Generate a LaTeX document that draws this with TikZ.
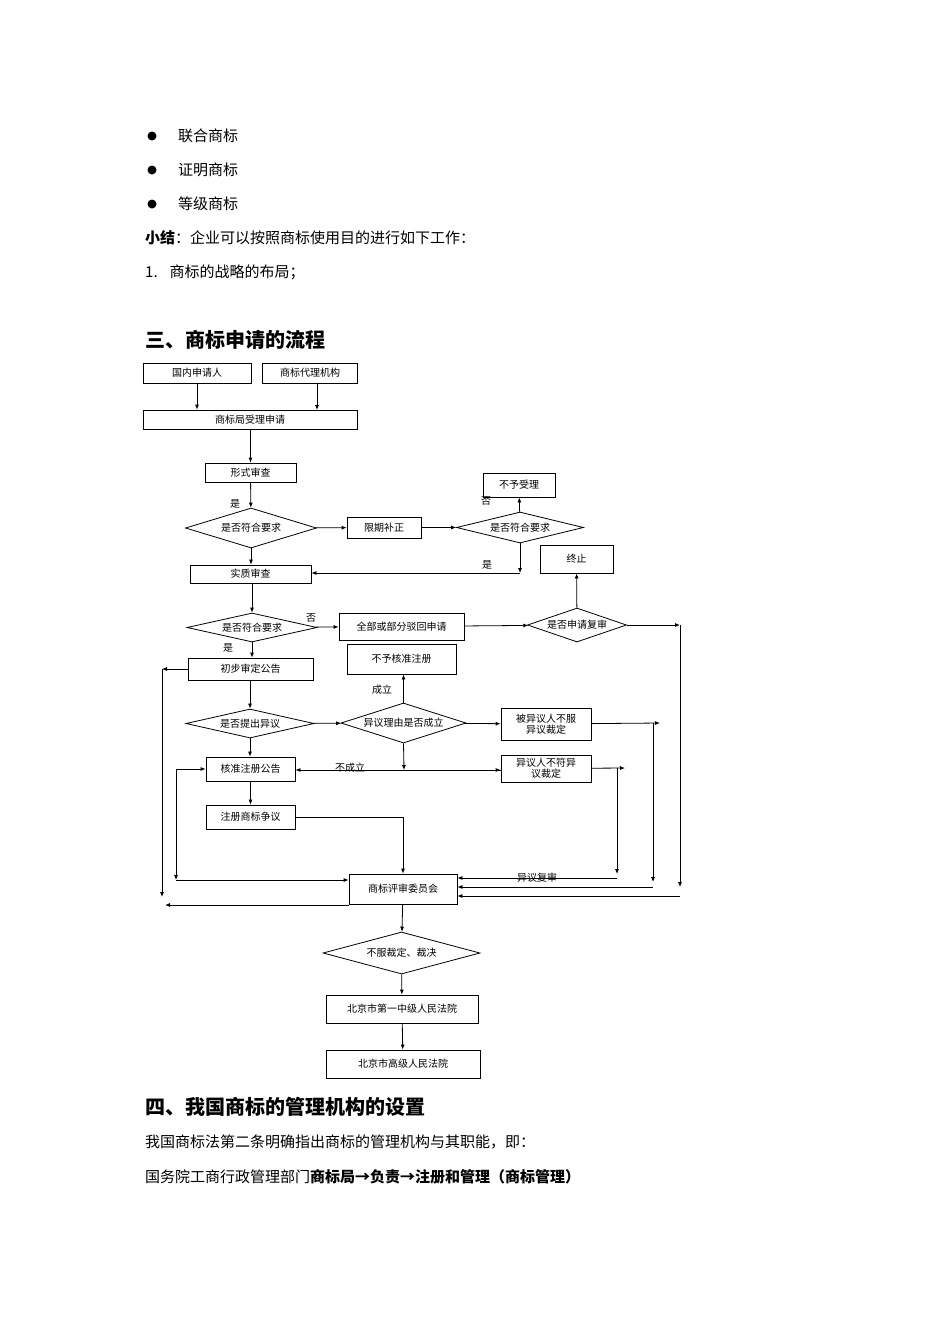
\documentclass[tikz,border=0pt]{standalone}
\usepackage{fontspec}
\setmainfont{Noto Sans CJK SC}
\newfontfamily\cjk{Noto Sans CJK SC}
\usetikzlibrary{arrows.meta,shapes.geometric}
\begin{document}
\begin{tikzpicture}[x=1pt,y=-1pt,
  bx/.style={draw,thick,inner sep=0pt,font=\fontsize{10}{11}\selectfont,align=center},
  dm/.style={draw,thick,diamond,aspect=3.2,inner sep=0pt,font=\fontsize{10}{11}\selectfont,align=center},
  ar/.style={thick,-{Latex[length=5pt,width=4pt]}},
  ln/.style={thick},
  lb/.style={font=\fontsize{10}{11}\selectfont,inner sep=1pt},
  tx/.style={anchor=west,font=\fontsize{15}{16}\selectfont,inner sep=0pt},
  hd/.style={anchor=west,font=\fontsize{20}{22}\selectfont\bfseries,inner sep=0pt}]
\useasboundingbox (0,0) rectangle (950,1344);
\fill[white] (0,0) rectangle (950,1344);
% text
\foreach \yy/\t in {136/联合商标,170/证明商标,204/等级商标}{
  \fill (152,\yy) circle (4.5);
  \node[tx] (b\yy) at (178,\yy) {\t};}
\node[tx] (s1) at (145,238) {\textbf{小结}：企业可以按照商标使用目的进行如下工作：};
\node[tx] (s2) at (145,272) {1.\hspace{12pt}商标的战略的布局；};
\node[hd] (h3) at (145,340) {三、商标申请的流程};
\node[hd] (h4) at (145,1107) {四、我国商标的管理机构的设置};
\node[tx] (t1) at (145,1142) {我国商标法第二条明确指出商标的管理机构与其职能，即：};
\node[tx] (t2) at (145,1177) {国务院工商行政管理部门\textbf{商标局→负责→注册和管理（商标管理）}};
% nodes
\node[bx,minimum width=108,minimum height=20] (gn) at (197,373) {国内申请人};
\node[bx,minimum width=95,minimum height=20] (dl) at (310,373) {商标代理机构};
\node[bx,minimum width=214,minimum height=19] (sl) at (250,419.5) {商标局受理申请};
\node[bx,minimum width=91,minimum height=19] (xs) at (250.5,472.5) {形式审查};
\node[dm,minimum width=131,minimum height=40] (d1) at (251,528) {是否符合要求};
\node[bx,minimum width=74,minimum height=21] (xq) at (384,527.5) {限期补正};
\node[dm,minimum width=127,minimum height=31] (d2) at (520,527.5) {是否符合要求};
\node[bx,minimum width=72,minimum height=24] (bs) at (519,485) {不予受理};
\node[bx,minimum width=73,minimum height=28] (zz) at (576.5,559) {终止};
\node[bx,minimum width=121,minimum height=18] (sz) at (250.5,574) {实质审查};
\node[dm,minimum width=130,minimum height=29] (d3) at (252,627.5) {是否符合要求};
\node[bx,minimum width=125,minimum height=27] (bh) at (401.5,626.5) {全部或部分驳回申请};
\node[dm,minimum width=99,minimum height=34] (d4) at (577,625) {是否申请复审};
\node[bx,minimum width=109,minimum height=30] (bhz) at (401.5,659) {不予核准注册};
\node[bx,minimum width=125,minimum height=22] (cb) at (250.5,669) {初步审定公告};
\node[dm,minimum width=128,minimum height=29] (d5) at (250,723.5) {是否提出异议};
\node[dm,minimum width=125,minimum height=40] (d6) at (403.5,723) {异议理由是否成立};
\node[bx,minimum width=90,minimum height=32] (byy) at (546,724) {被异议人不服\\异议裁定};
\node[bx,minimum width=89,minimum height=24] (hz) at (250.5,769) {核准注册公告};
\node[bx,minimum width=90,minimum height=27] (yyr) at (546,768.5) {异议人不符异\\议裁定};
\node[bx,minimum width=89,minimum height=24] (zc) at (250.5,817) {注册商标争议};
\node[bx,minimum width=108,minimum height=30] (pw) at (403,889) {商标评审委员会};
\node[dm,minimum width=157,minimum height=42] (bf) at (401.5,953) {不服裁定、裁决};
\node[bx,minimum width=152,minimum height=28] (bj1) at (402,1009) {北京市第一中级人民法院};
\node[bx,minimum width=154,minimum height=28] (bj2) at (403,1064) {北京市高级人民法院};
% labels
\node[lb] (l1) at (235,504) {是};
\node[lb] (l2) at (486,501) {否};
\node[lb] (l3) at (487,565) {是};
\node[lb] (l4) at (311,618) {否};
\node[lb] (l5) at (228,648) {是};
\node[lb] (l6) at (382,690) {成立};
\node[lb] (l7) at (350,768) {不成立};
\node[lb] (l8) at (537,878) {异议复审};
% coordinates
\coordinate (c1) at (520,573);
\coordinate (c2) at (680,625);
\coordinate (c3) at (680,896);
\coordinate (c4) at (660,723);
\coordinate (c4b) at (653,723);
\coordinate (c5) at (653,887);
\coordinate (c6) at (625,768);
\coordinate (c6b) at (617,768);
\coordinate (c7) at (617,878);
\coordinate (c8) at (162,669);
\coordinate (c9) at (162,897);
\coordinate (c10) at (165,905);
\coordinate (c11) at (176,769);
\coordinate (c12) at (176,880);
\coordinate (c13) at (404,770);
\coordinate (c14) at (403,817);
% connectors
\draw[ar] (gn.south) -- (gn.south|-sl.north);
\draw[ar] (dl.south-|317,0) -- (317,410);
\draw[ar] (sl.south-|xs.north) -- (xs.north);
\draw[ar] (xs) -- (d1);
\draw[ar] (d1) -- (sz.north-|d1);
\draw[ar] (d1) -- (xq);
\draw[ar] (xq) -- (d2);
\draw[ar] (d2) -- (bs);
\draw[ar] (d2.south) -- (c1);
\draw[ar] (c1) -- (sz.east|-c1);
\draw[ar] (sz.south-|d3) -- (d3.north);
\draw[ar] (d3) -- (bh);
\draw[ar] (d3.south) -- (cb.north-|d3.south);
\draw[ar] (bh) -- (d4);
\draw[ar] (d4) -- (zz);
\draw[ar] (d4) -- (c2);
\draw[ar] (c2) -- (680,887);
\draw[ar] (c3) -- (pw.east|-c3);
\draw[ar] (cb.west) -- (c8);
\draw[ar] (c8) -- (c9);
\draw[ar] (pw.south west|-c10) -- (c10);
\draw[ar] (cb.south-|d5) -- (d5.north);
\draw[ar] (d5) -- (d6);
\draw[ar] (d5.south) -- (hz.north-|d5.south);
\draw[ar] (d6.north) -- (bhz.south-|d6.north);
\draw[ar] (d6) -- (byy);
\draw[ar] (d6.south) -- (c13);
\draw[ar] (yyr.west|-c13) -- (hz.east|-c13);
\draw[ar] (c13) -- (yyr.west|-c13);
\draw[ar] (byy) -- (c4);
\draw[ar] (c4b) -- (653,882);
\draw[ar] (c5) -- (pw.east|-c5);
\draw[ar] (yyr) -- (c6);
\draw[ar] (c6b) -- (617,874);
\draw[ar] (c7) -- (pw.east|-c7);
\draw[ar] (c11) -- (hz.west);
\draw[ar] (c11) -- (c12);
\draw[ar] (c12) -- (pw.west|-c12);
\draw[ar] (hz) -- (zc);
\draw[ln] (zc.east) -- (c14);
\draw[ar] (c14) -- (pw.north);
\draw[ar] (pw) -- (bf);
\draw[ar] (bf) -- (bj1);
\draw[ar] (bj1) -- (bj2);
\end{tikzpicture}
\end{document}
